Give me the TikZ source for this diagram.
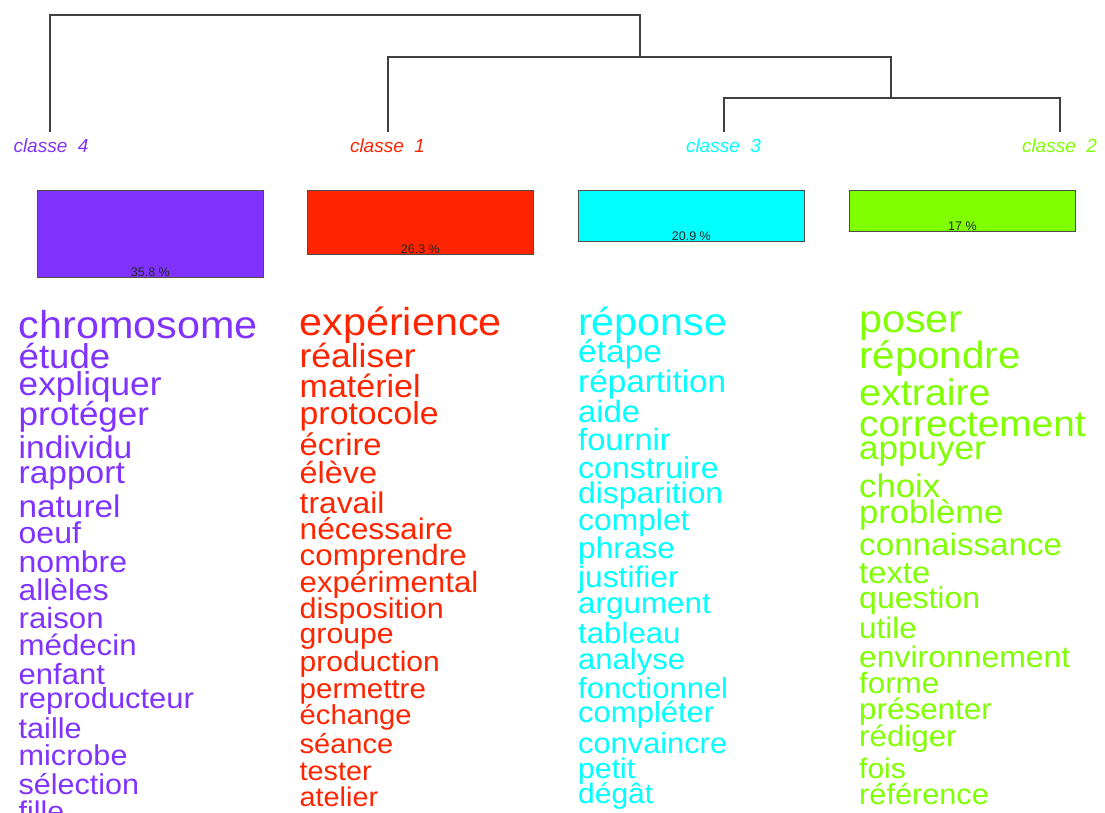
\documentclass[tikz,border=0pt]{standalone}
\usepackage{fontspec}
\setmainfont{Liberation Sans}
\usetikzlibrary{positioning}

\definecolor{clfour}{HTML}{8033FF}
\definecolor{clone}{HTML}{FF2400}
\definecolor{clthree}{HTML}{00FFFF}
\definecolor{cltwo}{HTML}{80FF00}

\newcommand{\wsize}[1]{\fontsize{#1}{#1}\selectfont}
\newcommand{\flatword}[2]{\scalebox{1}[0.94]{\wsize{#1}#2}}

\tikzset{
  dendro/.style={draw=black!75, line width=1.2pt},
  classlabel/.style={font=\itshape\wsize{19}, inner sep=0pt, anchor=base},
  classbar/.style={draw=black!70, line width=0.8pt, anchor=north west,
    minimum width=226pt, inner sep=0pt},
  pct/.style={font=\wsize{12.5}, text=black!85, inner sep=0pt, anchor=base},
  word/.style={inner sep=0pt, anchor=base west},
}

\begin{document}
\begin{tikzpicture}[x=1pt, y=-1pt]
  \useasboundingbox (0,0) rectangle (1105,813);
  \clip (0,0) rectangle (1105,813);

  % Dendrogram joints and leaves
  \coordinate (leaf4) at (50,132);
  \coordinate (leaf1) at (388,132);
  \coordinate (leaf3) at (724,132);
  \coordinate (leaf2) at (1060,132);
  \coordinate (root) at (640,15);
  \coordinate (n132) at (640,57);
  \coordinate (n32) at (891,98);

  % Dendrogram
  \draw[dendro] (leaf4) |- (root) -- (n132);
  \draw[dendro] (leaf1) |- (n132) -| (n32);
  \draw[dendro] (leaf3) |- (n32) -| (leaf2);

  % Class labels
  \node[classlabel, text=clfour] (lab4) at (51,153) {classe\ \ 4};
  \node[classlabel, text=clone] (lab1) at (387.5,153) {classe\ \ 1};
  \node[classlabel, text=clthree] (lab3) at (723.5,153) {classe\ \ 3};
  \node[classlabel, text=cltwo] (lab2) at (1059.5,153) {classe\ \ 2};

  % Bars
  \node[classbar, fill=clfour, minimum height=87pt] (bar4) at (37,190) {};
  \node[classbar, fill=clone, minimum height=64pt] (bar1) at (307,190) {};
  \node[classbar, fill=clthree, minimum height=51pt] (bar3) at (578,190) {};
  \node[classbar, fill=cltwo, minimum height=41pt] (bar2) at (849,190) {};
  \node[pct] (pct4) at ([yshift=1.8pt]bar4.south) {35.8 \%};
  \node[pct] (pct1) at ([yshift=1.8pt]bar1.south) {26.3 \%};
  \node[pct] (pct3) at ([yshift=1.8pt]bar3.south) {20.9 \%};
  \node[pct] (pct2) at ([yshift=1.8pt]bar2.south) {17 \%};

  % Words of classe 4
  \foreach \w/\s/\y [count=\i] in {chromosome/41.3/338, étude/36.6/368,
      expliquer/35.2/395, protéger/35/425, individu/33.5/458,
      rapport/33.5/483, naturel/33.3/517, oeuf/32/543, nombre/32/572,
      allèles/31.8/600, raison/31.2/628, médecin/31.2/655, enfant/31/684,
      reproducteur/30.9/708, taille/30.6/738, microbe/30.6/765,
      sélection/30.5/794, fille/30.3/821}
    \node[word, text=clfour] (wfour-\i) at (18.5,\y) {\flatword{\s}{\w}};

  % Words of classe 1
  \foreach \w/\s/\y [count=\i] in {expérience/41.3/335, réaliser/35.4/367,
      matériel/34/397, protocole/33.8/424, écrire/32.8/455, élève/32.4/483,
      travail/31.8/513, nécessaire/31.7/539, comprendre/31.3/565,
      expérimental/31.2/592, disposition/30.5/618, groupe/30.2/643,
      production/30/671, permettre/29.5/698, échange/29.2/724,
      séance/29/753, tester/28.8/780, atelier/28.8/806}
    \node[word, text=clone] (wone-\i) at (299.5,\y) {\flatword{\s}{\w}};

  % Words of classe 3
  \foreach \w/\s/\y [count=\i] in {réponse/41.3/335, étape/33.5/362,
      répartition/33.3/392, aide/32.8/422, fournir/32.7/450,
      construire/32/478, disparition/31.8/503, complet/31.8/530,
      phrase/31.7/558, justifier/31.7/587, argument/31.4/613,
      tableau/31.2/643, analyse/31/669, fonctionnel/31/698,
      compléter/31/722, convaincre/30.8/753, petit/30.2/778, dégât/30/803}
    \node[word, text=clthree] (wthree-\i) at (578,\y) {\flatword{\s}{\w}};

  % Words of classe 2
  \foreach \w/\s/\y [count=\i] in {poser/41.3/332, répondre/40.3/368,
      extraire/39.4/405, correctement/38.8/436, appuyer/35/459,
      choix/34.7/497, problème/34.6/523, connaissance/33.2/555,
      texte/32.8/583, question/32/608, utile/31.5/638,
      environnement/31.9/667, forme/31.3/693, présenter/31.4/719,
      rédiger/31.3/746, fois/30/778, référence/30.7/804}
    \node[word, text=cltwo] (wtwo-\i) at (859,\y) {\flatword{\s}{\w}};
\end{tikzpicture}
\end{document}
